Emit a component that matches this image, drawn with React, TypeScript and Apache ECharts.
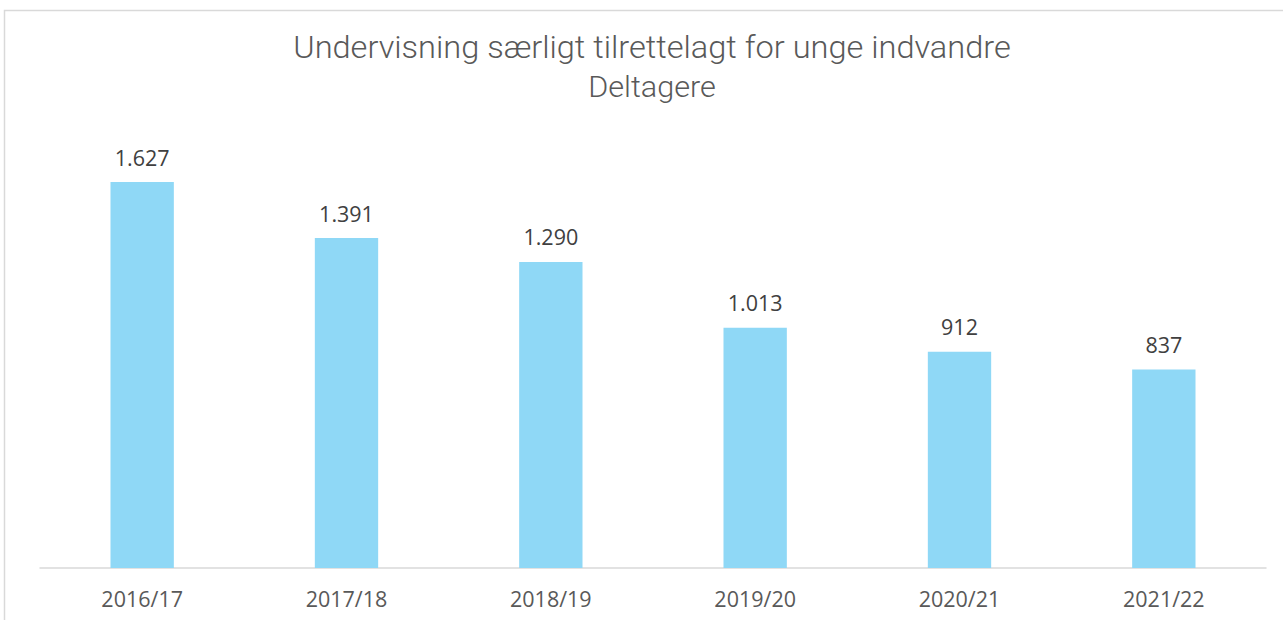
import React, { useEffect, useRef } from "react";
import * as echarts from "echarts";

const categories = ["2016/17", "2017/18", "2018/19", "2019/20", "2020/21", "2021/22"];
const values = [1627, 1391, 1290, 1013, 912, 837];
const titleText = "Undervisning særligt tilrettelagt for unge indvandre";
const subtitleText = "Deltagere";

const fmt = (v: number) => {
  const s = String(v);
  return s.length > 3 ? s.slice(0, s.length - 3) + "." + s.slice(-3) : s;
};

export default function App() {
  const ref = useRef<HTMLDivElement>(null);
  useEffect(() => {
    document.body.style.margin = "0";
    const chart = echarts.init(ref.current!, null, { renderer: "svg" });
    chart.setOption({
      animation: false,
      backgroundColor: "#ffffff",
      graphic: [
        {
          type: "rect",
          shape: { x: 4.5, y: 10.5, width: 1400, height: 700 },
          style: { fill: "none", stroke: "#d9d9d9", lineWidth: 1.5 },
          silent: true,
        },
        {
          type: "text",
          x: 652,
          y: 48,
          scaleX: 1.05,
          style: {
            text: titleText,
            fill: "#595959",
            font: "300 31px Roboto",
            align: "center",
            verticalAlign: "middle",
          },
        },
        {
          type: "text",
          x: 652,
          y: 87,
          scaleX: 1.02,
          style: {
            text: subtitleText,
            fill: "#595959",
            font: "300 30px Roboto",
            align: "center",
            verticalAlign: "middle",
          },
        },
      ],
      grid: { left: 40, right: 17, top: 141, bottom: 52 },
      xAxis: {
        type: "category",
        data: categories,
        axisLine: { lineStyle: { color: "#d9d9d9", width: 1.5 } },
        axisTick: { show: false },
        axisLabel: {
          color: "#595959",
          fontFamily: "Open Sans",
          fontSize: 21.5,
          margin: 19,
        },
      },
      yAxis: {
        type: "value",
        min: 0,
        max: 1800,
        show: false,
        splitLine: { show: false },
      },
      series: [
        {
          type: "bar",
          data: values,
          barWidth: "31%",
          itemStyle: { color: "#8fd8f6" },
          label: {
            show: true,
            position: "top",
            distance: 14,
            color: "#404040",
            fontFamily: "Open Sans",
            fontSize: 21.5,
            formatter: (p: any) => fmt(p.value),
          },
        },
      ],
    });
    return () => chart.dispose();
  }, []);
  return <div ref={ref} style={{ width: 1283, height: 620 }} />;
}
